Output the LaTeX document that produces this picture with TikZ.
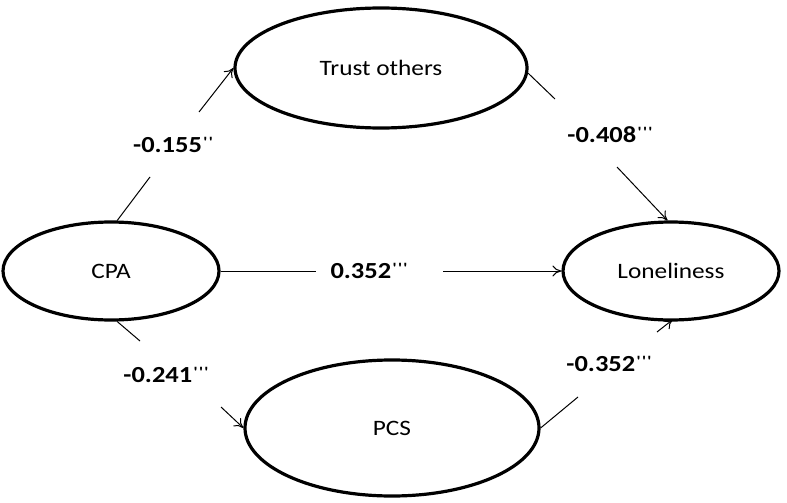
\documentclass[tikz,border=0pt]{standalone}
\usepackage{fontspec}
\setmainfont{Carlito}[Ligatures=TeXOff, FakeStretch=1.15]
\usetikzlibrary{shapes.geometric,arrows.meta}
\tikzset{
  latent/.style={ellipse, draw, line width=3.2pt, inner sep=0pt, font=\fontsize{22}{24}\selectfont},
  coef/.style={font=\fontsize{23}{24}\selectfont\bfseries, inner sep=0pt},
  path/.style={line width=1pt},
  arr/.style={line width=1pt, -{To[length=9pt,width=11pt]}},
}
\newcommand{\tk}{\kern1.4pt'}
\newcommand{\stars}[1]{\raisebox{5pt}{\fontsize{15}{15}\selectfont\bfseries #1}}
\begin{document}
\begin{tikzpicture}[x=1pt,y=-1pt]
\useasboundingbox (0,0) rectangle (787,503);
\node[latent, minimum width=292pt, minimum height=120pt] (trust) at (381,68) {Trust others};
\node[latent, minimum width=216pt, minimum height=98pt] (cpa) at (111,271) {CPA};
\node[latent, minimum width=216pt, minimum height=98pt] (lone) at (671,271) {Loneliness};
\node[latent, minimum width=294pt, minimum height=136pt] (pcs) at (392,428) {PCS};

\node[coef] (l1) at (173,145) {-0.155\stars{\tk\tk}};
\node[coef] (l2) at (610,135) {-0.408\stars{\tk\tk\tk}};
\node[coef] (l3) at (369,271) {0.352\stars{\tk\tk\tk}};
\node[coef] (l4) at (166,375) {-0.241\stars{\tk\tk\tk}};
\node[coef] (l5) at (609,364) {-0.352\stars{\tk\tk\tk}};

\coordinate (a1) at (150,177);
\coordinate (a2) at (199,112);
\coordinate (b1) at (555,99);
\coordinate (b2) at (617,167);
\coordinate (c1) at (316,271);
\coordinate (c2) at (443,271);
\coordinate (d1) at (140,341);
\coordinate (d2) at (221,407);
\coordinate (e1) at (578,397);
\coordinate (e2) at (657,332);

\draw[path] (cpa.83) -- (a1);
\draw[arr] (a2) -- (trust.west);
\draw[path] (trust.-2) -- (b1);
\draw[arr] (b2) -- (lone.94);
\draw[path] (cpa.east) -- (c1);
\draw[arr] (c2) -- (lone.west);
\draw[path] (cpa.-83) -- (d1);
\draw[arr] (d2) -- (pcs.west);
\draw[path] (pcs.east) -- (e1);
\draw[arr] (e2) -- ([yshift=2pt]lone.-88);
\end{tikzpicture}
\end{document}
